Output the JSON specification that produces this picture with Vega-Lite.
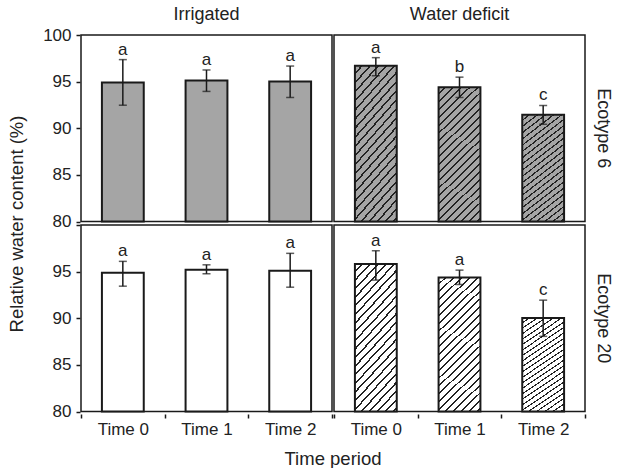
{
  "$schema": "https://vega.github.io/schema/vega-lite/v6.json",
  "padding": {"left": 7, "top": 6, "right": 6, "bottom": 0},
  "data": {"values": [
    {"eco":"Ecotype 6","treat":"Irrigated","time":"Time 0","mean":94.9,"lo":92.47,"hi":97.36,"sig":"a"},
    {"eco":"Ecotype 6","treat":"Irrigated","time":"Time 1","mean":95.13,"lo":93.95,"hi":96.25,"sig":"a"},
    {"eco":"Ecotype 6","treat":"Irrigated","time":"Time 2","mean":95.02,"lo":93.3,"hi":96.67,"sig":"a"},
    {"eco":"Ecotype 6","treat":"Water deficit","time":"Time 0","mean":96.7,"lo":95.63,"hi":97.57,"sig":"a"},
    {"eco":"Ecotype 6","treat":"Water deficit","time":"Time 1","mean":94.41,"lo":93.3,"hi":95.48,"sig":"b"},
    {"eco":"Ecotype 6","treat":"Water deficit","time":"Time 2","mean":91.44,"lo":90.43,"hi":92.44,"sig":"c"},
    {"eco":"Ecotype 20","treat":"Irrigated","time":"Time 0","mean":94.87,"lo":93.44,"hi":96.1,"sig":"a"},
    {"eco":"Ecotype 20","treat":"Irrigated","time":"Time 1","mean":95.19,"lo":94.77,"hi":95.73,"sig":"a"},
    {"eco":"Ecotype 20","treat":"Irrigated","time":"Time 2","mean":95.09,"lo":93.33,"hi":96.96,"sig":"a"},
    {"eco":"Ecotype 20","treat":"Water deficit","time":"Time 0","mean":95.81,"lo":94.09,"hi":97.24,"sig":"a"},
    {"eco":"Ecotype 20","treat":"Water deficit","time":"Time 1","mean":94.38,"lo":93.62,"hi":95.16,"sig":"a"},
    {"eco":"Ecotype 20","treat":"Water deficit","time":"Time 2","mean":90.03,"lo":88.06,"hi":91.94,"sig":"c"}
  ]},
  "facet": {
    "row": {"field": "eco", "type": "nominal", "sort": ["Ecotype 6", "Ecotype 20"],
      "header": {"title": "Relative water content (%)", "titleOrient": "left", "labelOrient": "right", "labelAngle": 90, "labelPadding": 8, "titlePadding": 6}},
    "column": {"field": "treat", "type": "nominal", "sort": ["Irrigated", "Water deficit"],
      "header": {"title": "Time period", "titleOrient": "bottom", "labelOrient": "top", "labelPadding": 10, "titlePadding": 3}}
  },
  "spacing": {"row": 0, "column": 0},
  "spec": {
    "width": 251,
    "height": 186.5,
    "encoding": {
      "x": {"field": "time", "type": "nominal", "title": null,
        "scale": {"paddingInner": 0, "paddingOuter": 0},
        "axis": {"labelAngle": 0, "tickBand": "extent", "labelPadding": 3}}
    },
    "layer": [
      {
        "mark": {"type": "bar", "strokeWidth": 0, "width": {"band": 0.5}},
        "encoding": {
          "y": {"field": "mean", "type": "quantitative", "title": null,
            "scale": {"domain": [80, 100], "zero": false, "nice": false},
            "axis": {"values": [80, 85, 90, 95, 100], "labelPadding": 5,
              "labelExpr": "(datum.value == 100 && item && item.mark && item.mark.group && item.mark.group.mark && item.mark.group.mark.group && item.mark.group.mark.group.datum && item.mark.group.mark.group.datum.eco == 'Ecotype 20') ? '' : datum.label"}},
          "y2": {"datum": 80},
          "fill": {"condition": {"test": "datum.eco == 'Ecotype 6'", "value": "#a5a5a5"}, "value": "#ffffff"}
        }
      },
      {
        "transform": [{"filter": "datum.treat == 'Water deficit'"}],
        "mark": {"type": "bar", "strokeWidth": 0, "width": {"band": 0.5},
          "fill": {"gradient": "linear", "x1": 0, "y1": 0, "x2": 0.36, "y2": 1.19, "stops": [
            {"offset": 0, "color": "rgba(0,0,0,0)"},
            {"offset": 0.034, "color": "rgba(0,0,0,0)"}, {"offset": 0.034, "color": "#222222"}, {"offset": 0.045, "color": "#222222"}, {"offset": 0.045, "color": "rgba(0,0,0,0)"},
            {"offset": 0.079, "color": "rgba(0,0,0,0)"}, {"offset": 0.079, "color": "#222222"}, {"offset": 0.09, "color": "#222222"}, {"offset": 0.09, "color": "rgba(0,0,0,0)"},
            {"offset": 0.124, "color": "rgba(0,0,0,0)"}, {"offset": 0.124, "color": "#222222"}, {"offset": 0.135, "color": "#222222"}, {"offset": 0.135, "color": "rgba(0,0,0,0)"},
            {"offset": 0.169, "color": "rgba(0,0,0,0)"}, {"offset": 0.169, "color": "#222222"}, {"offset": 0.18, "color": "#222222"}, {"offset": 0.18, "color": "rgba(0,0,0,0)"},
            {"offset": 0.214, "color": "rgba(0,0,0,0)"}, {"offset": 0.214, "color": "#222222"}, {"offset": 0.225, "color": "#222222"}, {"offset": 0.225, "color": "rgba(0,0,0,0)"},
            {"offset": 0.259, "color": "rgba(0,0,0,0)"}, {"offset": 0.259, "color": "#222222"}, {"offset": 0.27, "color": "#222222"}, {"offset": 0.27, "color": "rgba(0,0,0,0)"},
            {"offset": 0.304, "color": "rgba(0,0,0,0)"}, {"offset": 0.304, "color": "#222222"}, {"offset": 0.315, "color": "#222222"}, {"offset": 0.315, "color": "rgba(0,0,0,0)"},
            {"offset": 0.349, "color": "rgba(0,0,0,0)"}, {"offset": 0.349, "color": "#222222"}, {"offset": 0.36, "color": "#222222"}, {"offset": 0.36, "color": "rgba(0,0,0,0)"},
            {"offset": 0.394, "color": "rgba(0,0,0,0)"}, {"offset": 0.394, "color": "#222222"}, {"offset": 0.405, "color": "#222222"}, {"offset": 0.405, "color": "rgba(0,0,0,0)"},
            {"offset": 0.439, "color": "rgba(0,0,0,0)"}, {"offset": 0.439, "color": "#222222"}, {"offset": 0.45, "color": "#222222"}, {"offset": 0.45, "color": "rgba(0,0,0,0)"},
            {"offset": 0.484, "color": "rgba(0,0,0,0)"}, {"offset": 0.484, "color": "#222222"}, {"offset": 0.495, "color": "#222222"}, {"offset": 0.495, "color": "rgba(0,0,0,0)"},
            {"offset": 0.529, "color": "rgba(0,0,0,0)"}, {"offset": 0.529, "color": "#222222"}, {"offset": 0.54, "color": "#222222"}, {"offset": 0.54, "color": "rgba(0,0,0,0)"},
            {"offset": 0.574, "color": "rgba(0,0,0,0)"}, {"offset": 0.574, "color": "#222222"}, {"offset": 0.585, "color": "#222222"}, {"offset": 0.585, "color": "rgba(0,0,0,0)"},
            {"offset": 0.619, "color": "rgba(0,0,0,0)"}, {"offset": 0.619, "color": "#222222"}, {"offset": 0.63, "color": "#222222"}, {"offset": 0.63, "color": "rgba(0,0,0,0)"},
            {"offset": 0.664, "color": "rgba(0,0,0,0)"}, {"offset": 0.664, "color": "#222222"}, {"offset": 0.675, "color": "#222222"}, {"offset": 0.675, "color": "rgba(0,0,0,0)"},
            {"offset": 0.709, "color": "rgba(0,0,0,0)"}, {"offset": 0.709, "color": "#222222"}, {"offset": 0.72, "color": "#222222"}, {"offset": 0.72, "color": "rgba(0,0,0,0)"},
            {"offset": 0.754, "color": "rgba(0,0,0,0)"}, {"offset": 0.754, "color": "#222222"}, {"offset": 0.765, "color": "#222222"}, {"offset": 0.765, "color": "rgba(0,0,0,0)"},
            {"offset": 0.799, "color": "rgba(0,0,0,0)"}, {"offset": 0.799, "color": "#222222"}, {"offset": 0.81, "color": "#222222"}, {"offset": 0.81, "color": "rgba(0,0,0,0)"},
            {"offset": 0.844, "color": "rgba(0,0,0,0)"}, {"offset": 0.844, "color": "#222222"}, {"offset": 0.855, "color": "#222222"}, {"offset": 0.855, "color": "rgba(0,0,0,0)"},
            {"offset": 0.889, "color": "rgba(0,0,0,0)"}, {"offset": 0.889, "color": "#222222"}, {"offset": 0.9, "color": "#222222"}, {"offset": 0.9, "color": "rgba(0,0,0,0)"},
            {"offset": 0.934, "color": "rgba(0,0,0,0)"}, {"offset": 0.934, "color": "#222222"}, {"offset": 0.945, "color": "#222222"}, {"offset": 0.945, "color": "rgba(0,0,0,0)"},
            {"offset": 0.979, "color": "rgba(0,0,0,0)"}, {"offset": 0.979, "color": "#222222"}, {"offset": 0.99, "color": "#222222"}, {"offset": 0.99, "color": "rgba(0,0,0,0)"},
            {"offset": 1, "color": "rgba(0,0,0,0)"}
          ]}},
        "encoding": {
          "y": {"field": "mean", "type": "quantitative"},
          "y2": {"datum": 80}
        }
      },
      {
        "mark": {"type": "bar", "fill": "transparent", "stroke": "#1a1a1a", "strokeWidth": 2, "width": {"band": 0.5}},
        "encoding": {
          "y": {"field": "mean", "type": "quantitative"},
          "y2": {"datum": 80}
        }
      },
      {
        "mark": {"type": "errorbar", "color": "#1a1a1a", "ticks": {"size": 8, "thickness": 1.5}, "rule": {"strokeWidth": 1.5}},
        "encoding": {
          "y": {"field": "lo", "type": "quantitative"},
          "y2": {"field": "hi"}
        }
      },
      {
        "mark": {"type": "text", "baseline": "alphabetic", "dy": -5, "fontSize": 17, "color": "#222"},
        "encoding": {
          "y": {"field": "hi", "type": "quantitative"},
          "text": {"field": "sig"}
        }
      }
    ]
  },
  "config": {
    "font": "Liberation Sans",
    "view": {"stroke": "#1a1a1a", "strokeWidth": 1.5},
    "axis": {"domain": false, "tickColor": "#1a1a1a", "tickWidth": 1.5, "tickSize": 4,
      "labelColor": "#222", "labelFontSize": 17, "grid": false, "titleFontWeight": "normal"},
    "header": {"labelFontSize": 18, "titleFontSize": 18.5, "labelColor": "#222", "titleColor": "#222", "titleFontWeight": "normal"}
  }
}
